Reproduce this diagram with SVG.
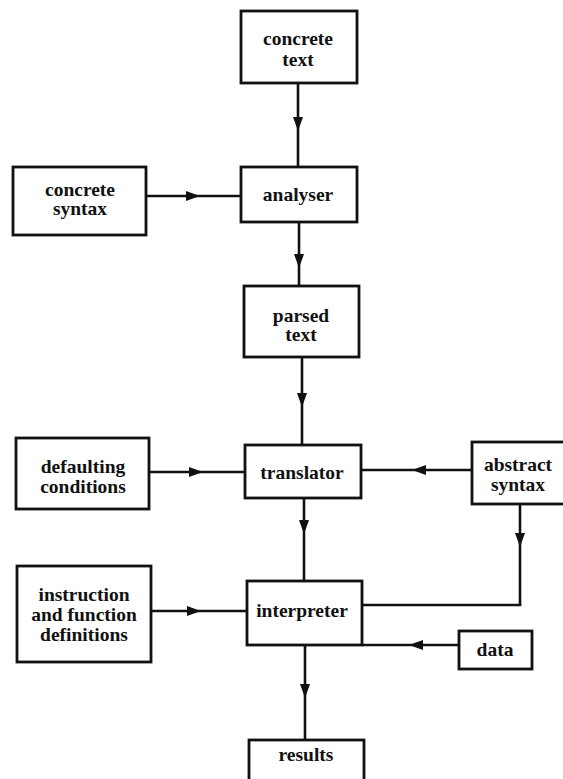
<svg xmlns="http://www.w3.org/2000/svg" width="563" height="779" viewBox="0 0 563 779">
<defs>
<marker id="ah" viewBox="0 0 14 10" refX="14" refY="5" markerWidth="14" markerHeight="10" markerUnits="userSpaceOnUse" orient="auto">
<path d="M0,0 L14,5 L0,10 Z" fill="#111"/>
</marker>
<style>
.box{fill:#fff;stroke:#111;stroke-width:2.8}
.lbl{font-family:"Liberation Serif","Times New Roman",serif;font-weight:bold;font-size:19.5px;fill:#111;text-anchor:middle}
.con{fill:none;stroke:#111;stroke-width:2.6;marker-mid:url(#ah)}
.ln{fill:none;stroke:#111;stroke-width:2.6}
</style>
</defs>
<rect width="563" height="779" fill="#fff"/>
<g id="connectors">
<path class="con" d="M298,83 L298,131 L298,167"/>
<path class="con" d="M146,196 L200,196 L241,196"/>
<path class="con" d="M299,222 L299,268 L299,286"/>
<path class="con" d="M302,357 L302,407 L302,445"/>
<path class="con" d="M149,472 L203,472 L245,472"/>
<path class="con" d="M472,470 L412,470 L361,470"/>
<path class="con" d="M304,498 L304,534 L304,581"/>
<path class="con" d="M520,504 L520,547 L520,605"/>
<path class="ln" d="M521.3,605 L362,605"/>
<path class="con" d="M151,611 L201,611 L247,611"/>
<path class="con" d="M459,645 L409,645 L362,645"/>
<path class="con" d="M305,645 L305,698 L305,740"/>
</g>
<g id="concrete-text"><rect class="box" x="241" y="11" width="116" height="72"/><text class="lbl" x="298" y="45">concrete</text><text class="lbl" x="298" y="66">text</text></g>
<g id="analyser"><rect class="box" x="241" y="167" width="116" height="55"/><text class="lbl" x="298" y="201">analyser</text></g>
<g id="concrete-syntax"><rect class="box" x="13" y="167" width="133" height="68"/><text class="lbl" x="80" y="196">concrete</text><text class="lbl" x="80" y="215">syntax</text></g>
<g id="parsed-text"><rect class="box" x="244" y="286" width="115" height="71"/><text class="lbl" x="301" y="322">parsed</text><text class="lbl" x="301" y="341">text</text></g>
<g id="translator"><rect class="box" x="245" y="445" width="116" height="53"/><text class="lbl" x="302" y="479">translator</text></g>
<g id="defaulting-conditions"><rect class="box" x="16" y="438" width="133" height="71"/><text class="lbl" x="83" y="473">defaulting</text><text class="lbl" x="83" y="493">conditions</text></g>
<g id="abstract-syntax"><rect class="box" x="472" y="442" width="96" height="62"/><text class="lbl" x="518" y="471">abstract</text><text class="lbl" x="518" y="491">syntax</text></g>
<g id="interpreter"><rect class="box" x="247" y="581" width="115" height="64"/><text class="lbl" x="302" y="617">interpreter</text></g>
<g id="instruction-definitions"><rect class="box" x="17" y="566" width="134" height="96"/><text class="lbl" x="84" y="601">instruction</text><text class="lbl" x="84" y="621">and function</text><text class="lbl" x="84" y="641">definitions</text></g>
<g id="data"><rect class="box" x="459" y="631" width="73" height="38"/><text class="lbl" x="495" y="656">data</text></g>
<g id="results"><rect class="box" x="249" y="740" width="115" height="50"/><text class="lbl" x="306" y="761">results</text></g>
</svg>
